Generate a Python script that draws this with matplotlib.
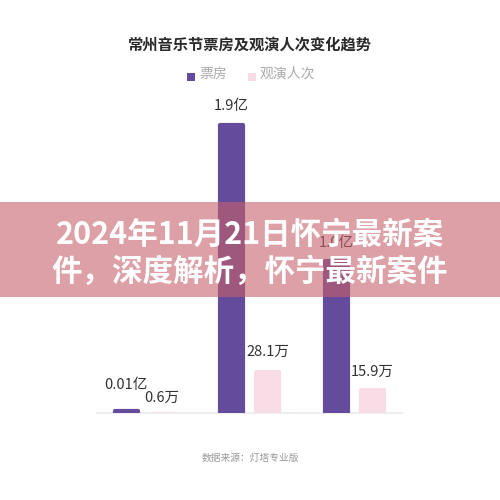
import matplotlib

matplotlib.use("Agg")
import matplotlib.pyplot as plt
from matplotlib.patches import Rectangle

plt.rcParams["font.family"] = ["Noto Sans CJK SC", "DejaVu Sans"]

categories = ["2019年", "2023年", "2024年1-6月"]
box_office = [0.01, 1.9, 1.0]  # 亿
attendance = [0.6, 28.1, 15.9]  # 万
series_names = ["票房", "观演人次"]

PURPLE = "#654b9c"
PINK = "#f8dce6"

fig = plt.figure(figsize=(5, 5), dpi=100, facecolor="white")
ax = fig.add_axes([0.194, 0.174, 0.61, 0.626])
ax2 = ax.twinx()

x = list(range(len(categories)))
off = 0.171
bw = 0.219

ax.bar([i - off for i in x], box_office, width=bw, color=PURPLE, edgecolor=PURPLE,
       linewidth=3, joinstyle="round", zorder=2)
# tiny values stay nearly invisible, as in the source chart
ax2.bar([i + off for i in x], attendance, width=bw, color=PINK, edgecolor=PINK,
        linewidth=[0 if v < 1 else 3 for v in attendance], joinstyle="round", zorder=2)

ax.set_xlim(-0.45, 2.45)
ax.set_ylim(0, 2.065)
ax2.set_ylim(0, 212)

for a in (ax, ax2):
    for s in a.spines.values():
        s.set_visible(False)
    a.set_yticks([])
    a.tick_params(length=0)
ax.axhline(0, color="#eeeeee", linewidth=1.5, zorder=1, clip_on=False)
ax.set_xticks(x, categories, color="#a0a0a0", fontsize=11)
ax.tick_params(axis="x", pad=8)
ax2.set_xticks([])

# label offsets above bar tops (points)
bo_offsets = [19, 13.5, 13.5]
at_offsets = [10, 14.5, 13]
for i, v in enumerate(box_office):
    ax.annotate(f"{v}亿", (i - off, v), xytext=(0, bo_offsets[i]), textcoords="offset points",
                ha="center", va="center", fontsize=10.5, color="#333333")
for i, v in enumerate(attendance):
    ax2.annotate(f"{v}万", (i + off, v), xytext=(0, at_offsets[i]), textcoords="offset points",
                 ha="center", va="center", fontsize=10.5, color="#333333")

fig.text(0.5, 0.91, "常州音乐节票房及观演人次变化趋势", ha="center", va="center",
         fontsize=11, fontweight="heavy", color="#2a2a2a")

# legend
fig.patches.append(Rectangle((0.374, 0.839), 0.016, 0.016, transform=fig.transFigure,
                             facecolor=PURPLE, edgecolor="none"))
fig.text(0.398, 0.852, series_names[0], ha="left", va="center", fontsize=10, color="#aaaaaa")
fig.patches.append(Rectangle((0.496, 0.839), 0.016, 0.016, transform=fig.transFigure,
                             facecolor=PINK, edgecolor="none"))
fig.text(0.52, 0.852, series_names[1], ha="left", va="center", fontsize=10, color="#aaaaaa")

fig.text(0.5, 0.084, "数据来源：灯塔专业版", ha="center", va="center", fontsize=7, color="#999999")

# overlay banner
fig.patches.append(Rectangle((0, 0.406), 1, 0.19, transform=fig.transFigure,
                             facecolor="#c5616b", alpha=0.6, edgecolor="none", zorder=5))
fig.text(0.5, 0.53, "2024年11月21日怀宁最新案", ha="center", va="center", fontsize=22,
         fontweight="bold", color="white", zorder=6)
fig.text(0.5, 0.456, "件，深度解析，怀宁最新案件", ha="center", va="center", fontsize=22,
         fontweight="bold", color="white", zorder=6)

fig.savefig("out.png", dpi=100, facecolor="white")
